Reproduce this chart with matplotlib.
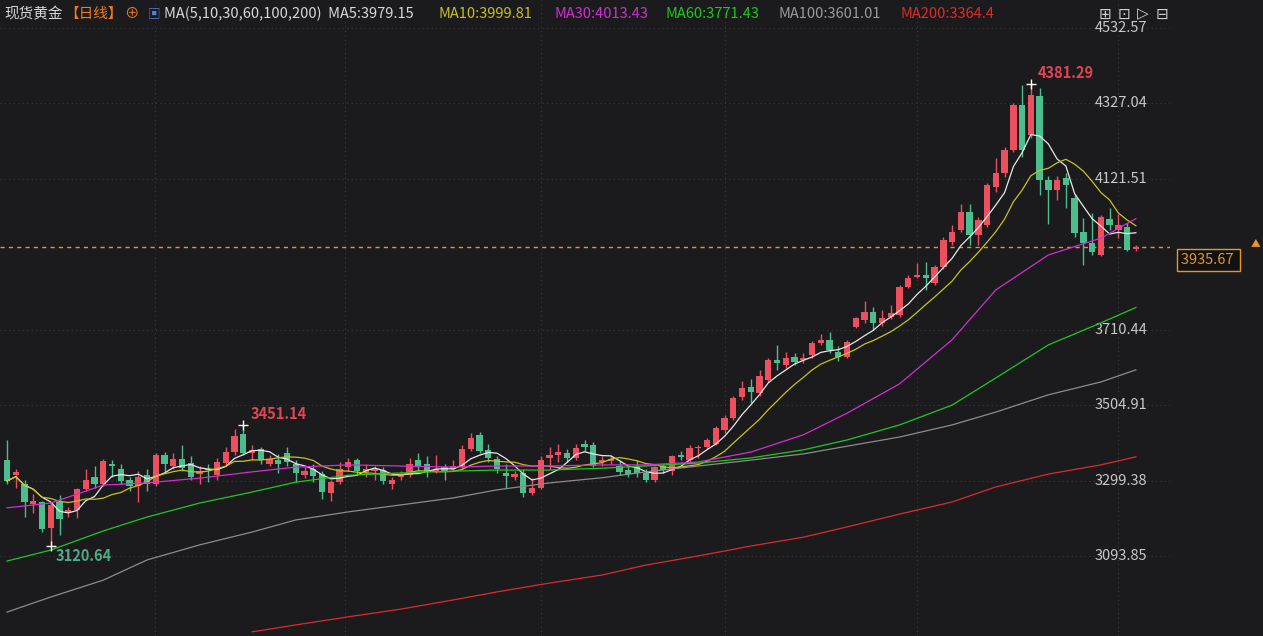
import matplotlib
matplotlib.use("Agg")
import matplotlib.pyplot as plt
import numpy as np
import pandas as pd

plt.rcParams['font.family'] = ['Noto Sans CJK SC', 'DejaVu Sans']

# (open, close, high, low)
candles = [
(3355,3298,3410,3290),(3315,3322,3330,3280),(3290,3240,3300,3200),(3235,3243,3262,3210),
(3240,3167,3245,3160),(3170,3233,3240,3120.64),(3240,3195,3260,3150),(3210,3218,3228,3200),
(3218,3276,3280,3198),(3275,3300,3330,3270),(3310,3290,3340,3280),(3290,3352,3358,3285),
(3345,3338,3355,3310),(3330,3298,3345,3290),(3300,3285,3310,3270),(3285,3310,3325,3240),
(3315,3290,3330,3270),(3290,3370,3375,3285),(3370,3345,3378,3320),(3340,3358,3375,3330),
(3358,3333,3395,3325),(3348,3310,3365,3300),(3318,3325,3340,3290),(3330,3327,3345,3295),
(3315,3350,3360,3300),(3347,3377,3390,3340),(3377,3420,3440,3370),(3425,3375,3451.14,3370),
(3375,3382,3395,3355),(3385,3355,3392,3345),(3345,3357,3370,3340),(3355,3345,3372,3320),
(3375,3350,3390,3340),(3345,3320,3355,3295),(3315,3325,3340,3305),(3330,3312,3345,3295),
(3318,3268,3325,3250),(3265,3295,3300,3245),(3295,3330,3350,3290),(3335,3350,3360,3325),
(3355,3325,3360,3315),(3322,3330,3345,3310),(3325,3332,3340,3300),(3328,3297,3335,3290),
(3290,3300,3310,3275),(3310,3315,3325,3300),(3315,3345,3360,3310),(3355,3335,3375,3325),
(3345,3325,3365,3310),(3325,3332,3370,3320),(3335,3322,3345,3300),(3330,3340,3355,3325),
(3335,3385,3395,3330),(3385,3415,3428,3380),(3423,3380,3432,3375),(3382,3360,3400,3350),
(3357,3330,3365,3320),(3320,3312,3345,3280),(3310,3318,3325,3300),(3320,3265,3330,3255),
(3265,3280,3305,3260),(3280,3355,3365,3275),(3362,3370,3390,3330),(3370,3377,3400,3350),
(3375,3362,3385,3350),(3360,3388,3398,3355),(3400,3392,3410,3380),(3395,3340,3405,3335),
(3350,3355,3365,3340),(3352,3358,3368,3345),(3338,3322,3355,3315),(3328,3318,3340,3310),
(3340,3320,3355,3310),(3320,3300,3330,3295),(3300,3335,3340,3295),(3340,3327,3345,3320),
(3325,3365,3370,3315),
(3368,3364,3380,3355),(3356,3387,3395,3350),(3387,3392,3397,3360),(3390,3410,3415,3385),
(3400,3442,3448,3395),(3438,3469,3478,3430),(3470,3524,3530,3465),(3527,3551,3572,3518),
(3555,3542,3575,3510),(3537,3583,3600,3530),(3573,3628,3632,3567),(3628,3619,3669,3600),
(3614,3632,3650,3605),(3636,3623,3646,3614),(3628,3633,3648,3620),(3642,3673,3680,3632),
(3673,3682,3700,3668),(3682,3655,3703,3646),(3651,3637,3665,3626),(3637,3678,3682,3632),
(3719,3741,3745,3714),(3737,3760,3788,3730),(3760,3728,3773,3710),(3728,3741,3765,3720),
(3746,3755,3778,3740),(3751,3828,3832,3746),(3828,3851,3860,3823),(3855,3859,3891,3850),
(3860,3851,3896,3819),(3837,3882,3887,3832),(3882,3955,3964,3877),(3950,3978,3996,3941),
(3982,4032,4054,3977),(4032,3969,4054,3941),(3969,4009,4018,3941),(3996,4105,4110,3991),
(4100,4137,4177,4087),(4137,4200,4209,4127),(4200,4323,4327,4196),(4323,4200,4377,4182),
(4241,4350,4381.29,4232),(4347,4119,4368,4078),(4118,4091,4128,3999),(4091,4118,4130,4064),
(4123,4105,4137,4041),(4068,3973,4080,3964),(3978,3946,4014,3887),(3948,3923,4028,3914),
(3914,4018,4023,3910),(4011,3996,4041,3982),(3982,3996,4026,3960),(3991,3928,4000,3925),
(3930,3935.67,3940,3926),
]
ma_idx = [0,5,11,16,22,28,33,39,45,51,56,62,68,73,79,85,91,96,102,108,113,119,125,129]
ma30 = [3225,3238,3287,3293,3306,3323,3336,3342,3339,3336,3339,3339,3342,3342,3350,3377,3424,3483,3563,3683,3819,3914,3960,4013]
ma60 = [3080,3110,3162,3200,3238,3268,3295,3314,3320,3325,3328,3328,3333,3339,3347,3361,3383,3410,3451,3505,3579,3669,3729,3771]
ma100 = [2941,2982,3028,3083,3124,3159,3192,3214,3233,3252,3274,3293,3307,3323,3339,3355,3372,3393,3418,3451,3486,3533,3568,3601]
ma200_start = 5
ma200 = [2887,2906,2928,2949,2974,2996,3020,3042,3069,3094,3121,3145,3173,3208,3241,3282,3317,3342,3364]
ticks = [4532.57,4327.04,4121.51,3710.44,3504.91,3299.38,3093.85]
last_price = 3935.67

df = pd.DataFrame(candles, columns=['o','c','h','l'])
ma5 = df['c'].rolling(5, min_periods=1).mean()
ma10 = df['c'].rolling(10, min_periods=1).mean()

BG = '#1b1b1d'
RED = '#ec4f5d'
GRN = '#4cbd8c'
W, H = 1263, 636
fig = plt.figure(figsize=(W/100, H/100), dpi=100, facecolor=BG)
ax = fig.add_axes([0, 0, 1170/W, 1])
ax.set_facecolor(BG)
ax.set_xlim(-0.8, 132.9)
ax.set_ylim(4532.57-608*2.725, 4532.57+28*2.725)
for s in ax.spines.values():
    s.set_visible(False)
ax.set_xticks([]); ax.set_yticks([])

for t in ticks:
    ax.axhline(t, color='#3a3a3a', ls=(0,(1,3)), lw=0.8, zorder=0)
for xp in [155,345,541,725,917,1118]:
    ax.axvline((xp-7)/8.75, color='#3a3a3a', ls=(0,(1,3)), lw=0.8, zorder=0)

x = np.arange(len(df))
for i, r in df.iterrows():
    col = RED if r.c >= r.o else GRN
    ax.vlines(i, r.l, r.h, color=col, lw=1, zorder=2)
    bot, top = min(r.o, r.c), max(r.o, r.c)
    ax.bar(i, max(top-bot, 1.5), bottom=bot, width=0.72, color=col, zorder=3, linewidth=0)

ax.plot(x, ma5, color='#e8e8e8', lw=0.9, zorder=4)
ax.plot(x, ma10, color='#c8c21a', lw=0.9, zorder=4)
ax.plot(ma_idx, ma30, color='#d22ed2', lw=0.9, zorder=4)
ax.plot(ma_idx, ma60, color='#1ec81e', lw=0.9, zorder=4)
ax.plot(ma_idx, ma100, color='#8c8c8c', lw=0.9, zorder=4)
ax.plot(ma_idx[ma200_start:], ma200, color='#e02a2a', lw=0.9, zorder=4)

ax.axhline(last_price, color='#e8962a', ls=(0,(3,3)), lw=1, zorder=1)

# extremes
hi_i = int(df['h'].idxmax()); lo_i = int(df['l'].idxmin())
ax.plot(hi_i, df['h'][hi_i], marker='+', color='white', ms=7, zorder=5)
ax.text(hi_i+0.8, df['h'][hi_i]+8, f"{df['h'][hi_i]:.2f}", color='#e04552', fontsize=10.5, fontweight='bold', ha='left', va='bottom')
ax.plot(27, 3451.14, marker='+', color='white', ms=7, zorder=5)
ax.text(27.8, 3451.14+8, "3451.14", color='#e04552', fontsize=10.5, fontweight='bold', ha='left', va='bottom')
ax.plot(lo_i, df['l'][lo_i], marker='+', color='white', ms=7, zorder=5)
ax.text(lo_i+0.6, df['l'][lo_i]-6, f"{df['l'][lo_i]:.2f}", color='#4cae88', fontsize=10.5, fontweight='bold', ha='left', va='top')

# right axis labels
for t in ticks:
    ax.text(1182/W, t, f"{t:.2f}", transform=ax.get_yaxis_transform(), color='#c8c8c8', fontsize=10.5, va='center', ha='left', clip_on=False)
ax.annotate(f"{last_price:.2f} ", xy=(1.0, last_price), xycoords=ax.get_yaxis_transform(),
            xytext=(1181, H-260), textcoords='figure pixels', color='#e8962a', fontsize=10.5, va='center',
            bbox=dict(boxstyle='square,pad=0.25', fc='#111111', ec='#e8962a', lw=1), annotation_clip=False)
fig.text(1256/W, 1-243/H, '▲', color='#e8962a', fontsize=7, ha='center', va='center')

# header
y0 = 1 - 14/H
parts = [("现货黄金", '#d8d8d8', 4), ("【日线】", '#f07b20', 64), ("⊕", '#f07b20', 124),
         ("MA(5,10,30,60,100,200)  MA5:3979.15", '#d8d8d8', 164),
         ("MA10:3999.81", '#c8c21a', 438), ("MA30:4013.43", '#d22ed2', 555), ("MA60:3771.43", '#1ec81e', 665),
         ("MA100:3601.01", '#9a9a9a', 779), ("MA200:3364.4", '#e02a2a', 900)]
for txt, c, xp in parts:
    fig.text(xp/W, y0, txt, color=c, fontsize=10.5, va='center', ha='left')
fig.text(148/W, y0, '▣', color='#5a7fd8', fontsize=9, va='center', ha='left')
for k, xp in enumerate([1105, 1124, 1143, 1162]):
    fig.text(xp/W, y0, ['⊞', '⊡', '▷', '⊟'][k], color='#cfcfcf', fontsize=11, va='center', ha='center', family=['DejaVu Sans'])

fig.savefig('out.png', dpi=100, facecolor=BG)
